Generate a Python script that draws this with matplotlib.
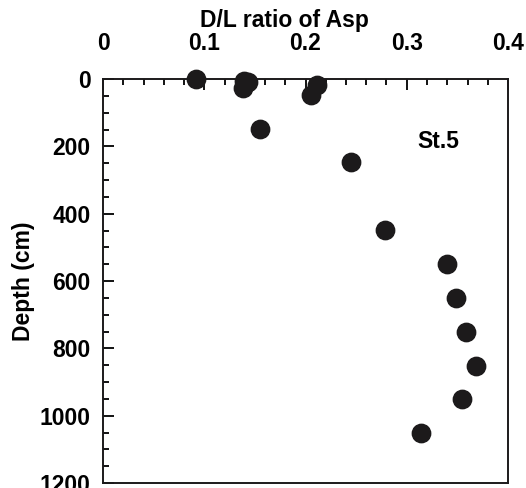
import matplotlib
matplotlib.use("Agg")
import matplotlib.pyplot as plt
from matplotlib.ticker import MultipleLocator

plt.rcParams['font.family'] = ['Liberation Sans', 'DejaVu Sans']
plt.rcParams['font.weight'] = 'bold'

# D/L ratio of Asp vs depth, station 5
dl_ratio = [0.092, 0.139, 0.143, 0.138, 0.211, 0.205, 0.155, 0.245,
            0.279, 0.340, 0.349, 0.359, 0.368, 0.355, 0.314]
depth_cm = [0, 5, 10, 28, 18, 48, 148, 248, 448, 550, 650, 752, 852, 950, 1050]

station = "St.5"
fs = 16.5

fig = plt.figure(figsize=(5.26, 4.88), dpi=100)
ax = fig.add_axes([103 / 526, 1 - 483 / 488, 405 / 526, 404 / 488])

ax.scatter(dl_ratio, depth_cm, s=175, color='#1c1a1b', zorder=3, clip_on=False)

ax.set_xlim(0, 0.4)
ax.set_ylim(1200, 0)
ax.xaxis.set_minor_locator(MultipleLocator(0.02))
ax.yaxis.set_major_locator(MultipleLocator(200))
ax.yaxis.set_minor_locator(MultipleLocator(50))
ax.xaxis.tick_top()
ax.set_xticks([0, 0.1, 0.2, 0.3, 0.4])
ax.set_xticklabels(['0', '0.1', '0.2', '0.3', '0.4'])

ax.tick_params(axis='x', which='both', direction='in', top=True, bottom=False,
               labelsize=fs, pad=17, width=1.3)
ax.tick_params(axis='y', which='both', direction='in', left=True, right=False,
               labelsize=fs, pad=9, width=1.3)
ax.tick_params(which='major', length=8)
ax.tick_params(which='minor', length=4.5)
for sp in ax.spines.values():
    sp.set_linewidth(1.4)
    sp.set_color('#1c1a1b')

ax.set_ylabel('Depth (cm)', fontsize=fs, fontweight='bold', labelpad=3)
fig.text(284 / 526, 1 - 27 / 488, 'D/L ratio of Asp', fontsize=fs,
         fontweight='bold', ha='center', va='baseline')
ax.text(0.331, 187, station, fontsize=fs, fontweight='bold',
        ha='center', va='center')

fig.savefig('out.png', dpi=100)
